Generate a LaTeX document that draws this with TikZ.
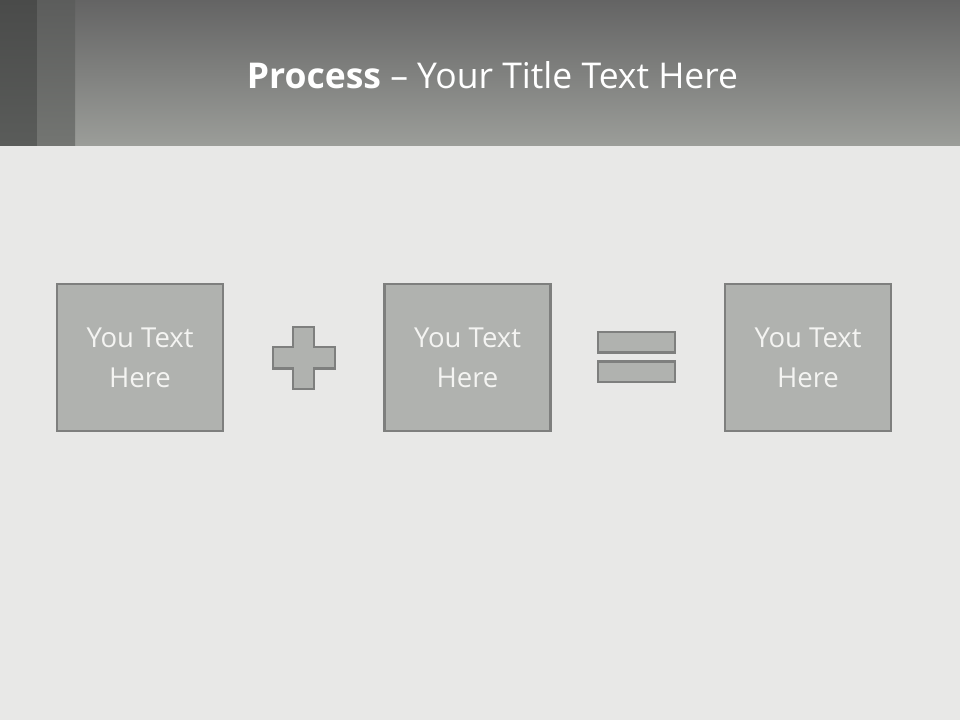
\documentclass[tikz,border=0pt]{standalone}
\usepackage{fontspec}
\setmainfont{Open Sans}
\definecolor{bgc}{HTML}{E8E8E7}
\definecolor{hdtop}{HTML}{646464}
\definecolor{hdbot}{HTML}{9B9D99}
\definecolor{s1top}{HTML}{4A4B4A}
\definecolor{s1bot}{HTML}{5A5C5A}
\definecolor{s2top}{HTML}{5C5D5C}
\definecolor{s2bot}{HTML}{737572}
\definecolor{boxfill}{HTML}{B0B2AF}
\definecolor{boxline}{HTML}{7E7F7E}
\definecolor{txt}{HTML}{F4F4F2}
\tikzset{
  textbox/.style={draw=boxline, fill=boxfill, line width=2.5pt, minimum width=166pt, minimum height=147pt, inner sep=0pt, text=txt, font=\fontsize{27.5}{40}\selectfont, align=center},
  symb/.style={draw=boxline, fill=boxfill, line width=2.5pt}
}
\begin{document}
\begin{tikzpicture}[x=1pt,y=-1pt]
\useasboundingbox (0,0) rectangle (960,720);
\fill[bgc] (0,0) rectangle (960,720);
\shade[top color=hdtop, bottom color=hdbot] (0,0) rectangle (960,145);
\shade[top color=s1top, bottom color=s1bot] (0,0) rectangle (37,145);
\shade[top color=s2top, bottom color=s2bot] (37,0) rectangle (75,145);
\node[text=white, font=\fontsize{35.5}{44}\selectfont, anchor=center] (title) at (492.5,75) {\textbf{Process} – Your Title Text Here};
\node[textbox] (b1) at (140,357.5) {You Text\\Here};
\node[textbox] (b2) at (467.5,357.5) {You Text\\Here};
\node[textbox] (b3) at (808,357.5) {You Text\\Here};
\draw[symb] (293,327) -- (314,327) -- (314,347) -- (335,347) -- (335,368.5) -- (314,368.5) -- (314,389) -- (293,389) -- (293,368.5) -- (273,368.5) -- (273,347) -- (293,347) -- cycle;
\draw[symb] (598,332) rectangle (675,352.5);
\draw[symb] (598,361.5) rectangle (675,382);
\end{tikzpicture}
\end{document}
